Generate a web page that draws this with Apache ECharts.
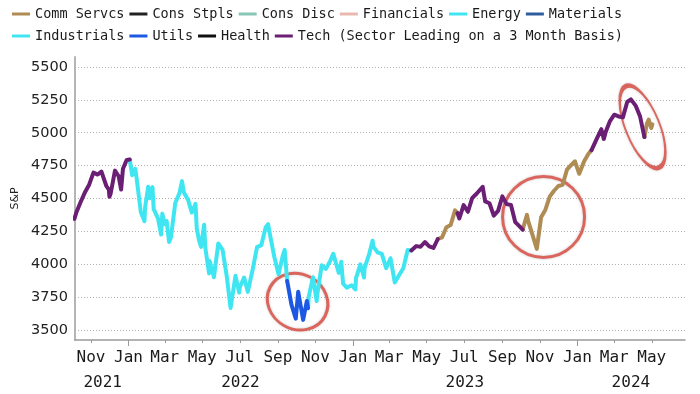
<!DOCTYPE html>
<html><head><meta charset="utf-8">
<script src="https://cdn.jsdelivr.net/npm/echarts@6/dist/echarts.min.js"></script>
<style>html,body{margin:0;padding:0;background:#fff}#c{width:700px;height:394px}</style>
</head><body><div id="c"></div><script>
// S&P 500 levels
const dates = [
'2021-10-05','2021-10-08','2021-10-15','2021-10-22','2021-10-29','2021-11-05','2021-11-12','2021-11-18','2021-11-26','2021-11-30','2021-12-01','2021-12-03','2021-12-10','2021-12-16','2021-12-20','2021-12-23','2021-12-29',
'2022-01-03','2022-01-07','2022-01-12','2022-01-14','2022-01-21','2022-01-27','2022-01-28','2022-02-02','2022-02-04','2022-02-09','2022-02-11','2022-02-18','2022-02-23','2022-02-25','2022-03-01','2022-03-04','2022-03-08','2022-03-11','2022-03-18','2022-03-25','2022-03-29','2022-04-01','2022-04-08','2022-04-14','2022-04-20','2022-04-22','2022-04-26','2022-04-29','2022-05-04','2022-05-06','2022-05-12','2022-05-13','2022-05-20','2022-05-27','2022-06-03','2022-06-10','2022-06-16','2022-06-24','2022-06-30','2022-07-01','2022-07-08','2022-07-14','2022-07-22','2022-07-29','2022-08-05','2022-08-12','2022-08-16','2022-08-19','2022-08-26','2022-09-02','2022-09-09','2022-09-12','2022-09-16','2022-09-23','2022-09-30','2022-10-04','2022-10-12','2022-10-14','2022-10-18','2022-10-20','2022-10-21','2022-10-28','2022-11-03','2022-11-04','2022-11-10','2022-11-11','2022-11-18','2022-11-25','2022-11-30','2022-12-02','2022-12-09','2022-12-13','2022-12-16','2022-12-22','2022-12-30',
'2023-01-05','2023-01-06','2023-01-13','2023-01-19','2023-01-20','2023-01-27','2023-02-02','2023-02-03','2023-02-10','2023-02-17','2023-02-24','2023-03-03','2023-03-06','2023-03-10','2023-03-13','2023-03-17','2023-03-24','2023-03-31','2023-04-06','2023-04-14','2023-04-21','2023-04-28','2023-05-05','2023-05-12','2023-05-19','2023-05-26','2023-06-02','2023-06-09','2023-06-16','2023-06-20','2023-06-23','2023-06-30','2023-07-07','2023-07-14','2023-07-21','2023-07-31','2023-08-04','2023-08-11','2023-08-18','2023-08-25','2023-09-01','2023-09-08','2023-09-15','2023-09-22','2023-09-29','2023-10-04','2023-10-11','2023-10-13','2023-10-20','2023-10-27','2023-11-03','2023-11-10','2023-11-17','2023-11-24','2023-12-01','2023-12-08','2023-12-15','2023-12-22','2023-12-28',
'2024-01-04','2024-01-12','2024-01-19','2024-01-24','2024-02-02','2024-02-09','2024-02-13','2024-02-16','2024-02-23','2024-03-01','2024-03-08','2024-03-15','2024-03-22','2024-03-28','2024-04-05','2024-04-12','2024-04-19','2024-04-23','2024-04-26','2024-04-30','2024-05-02'
];
const spx = [
4345,4391,4471,4545,4605,4697,4682,4705,4595,4567,4513,4538,4712,4669,4568,4726,4793,
4796,4677,4726,4662,4398,4327,4432,4589,4501,4587,4419,4349,4226,4385,4306,4329,4170,4204,4463,4543,4632,4546,4488,4393,4459,4272,4175,4132,4300,4123,3930,4024,3901,4158,4109,3901,3667,3912,3785,3825,3899,3790,3962,4130,4145,4280,4305,4228,4058,3924,4067,4110,3873,3693,3586,3791,3577,3583,3720,3666,3752,3901,3720,3771,3956,3993,3965,4026,4080,4072,3934,4019,3852,3822,3840,
3808,3895,3999,3899,3973,4071,4180,4136,4090,4079,3970,4046,4048,3862,3855,3917,3971,4109,4105,4138,4133,4169,4136,4124,4192,4205,4282,4299,4410,4389,4348,4450,4399,4505,4536,4589,4478,4464,4370,4406,4516,4457,4450,4320,4288,4263,4376,4328,4224,4117,4358,4415,4514,4559,4595,4604,4719,4755,4783,
4688,4784,4840,4868,4959,5027,4953,5006,5089,5137,5124,5117,5234,5254,5204,5123,4967,5070,5100,5036,5064
];
// Leading sector from each date onward
const sectorChangeDates = ['2021-10-05','2022-01-03','2022-09-16','2022-10-20','2023-04-06','2023-05-19','2023-06-20','2023-10-04','2024-01-24','2024-04-19'];
const sectorChangeNames = ['Tech','Energy','Utils','Energy','Tech','Comm Servcs','Tech','Comm Servcs','Tech','Comm Servcs'];

const sectorNames = ['Comm Servcs','Cons Stpls','Cons Disc','Financials','Energy','Materials','Industrials','Utils','Health','Tech'];
const legendLabels = ['Comm Servcs','Cons Stpls','Cons Disc','Financials','Energy','Materials','Industrials','Utils','Health','Tech (Sector Leading on a 3 Month Basis)'];
const sectorColors = ['#b08c55','#222222','#86c7b5','#e9b8b1','#3fe6f2','#2e5c9e','#3fe6f2','#1d58e2','#111111','#6b1f74'];

const yTicks = [3500,3750,4000,4250,4500,4750,5000,5250,5500];
const monthTickDates = ['2021-11-01','2022-01-01','2022-03-01','2022-05-01','2022-07-01','2022-09-01','2022-11-01','2023-01-01','2023-03-01','2023-05-01','2023-07-01','2023-09-01','2023-11-01','2024-01-01','2024-03-01','2024-05-01'];
const monthTickLabels = ['Nov','Jan','Mar','May','Jul','Sep','Nov','Jan','Mar','May','Jul','Sep','Nov','Jan','Mar','May'];
const yearTickDates = ['2022-01-01','2023-01-01','2024-01-01'];
const yearLabelDates = ['2021-11-20','2022-07-02','2023-07-02','2024-03-28'];
const yearLabels = ['2021','2022','2023','2024'];

const T = s => Date.parse(s + 'T00:00:00Z');
const times = dates.map(T);
const changeTimes = sectorChangeDates.map(T);
const leader = times.map(t => {
  let s = sectorChangeNames[0];
  for (let k = 0; k < changeTimes.length; k++) if (t >= changeTimes[k]) s = sectorChangeNames[k];
  return s;
});
const monthTimes = monthTickDates.map(T);
const yearTickTimes = yearTickDates.map(T);
const yearLabelTimes = yearLabelDates.map(T);
const xMin = T('2021-10-06'), xMax = T('2024-06-24');

const lineSeries = sectorNames.map((s, si) => ({
  name: legendLabels[si],
  type: 'line',
  xAxisIndex: 0, yAxisIndex: 0,
  symbol: 'none', showSymbol: false,
  connectNulls: false,
  silent: true,
  z: 3,
  lineStyle: { width: 4, color: sectorColors[si], join: 'round', cap: 'round' },
  itemStyle: { color: sectorColors[si] },
  data: times.map((t, i) => [t, (leader[i] === s || (i > 0 && leader[i - 1] === s)) ? spx[i] : null])
}));

const ellipses = {
  type: 'scatter', name: 'highlight', silent: true, z: 2,
  xAxisIndex: 0, yAxisIndex: 0,
  itemStyle: { color: 'rgba(0,0,0,0)', borderColor: '#d8473d', borderWidth: 3, shadowBlur: 3, shadowColor: 'rgba(0,0,0,0.25)' },
  data: [
    { value: [T('2022-10-03'), 3716], symbolSize: [62, 55], symbolRotate: -28 },
    { value: [T('2023-11-07'), 4360], symbolSize: [82, 81], symbolRotate: 0 },
    { value: [T('2024-04-16'), 5045], symbolSize: [34, 88], symbolRotate: 22 }
  ]
};

const legendCommon = {
  orient: 'horizontal', left: 12, padding: 0, icon: 'rect', itemWidth: 18, itemHeight: 3, itemGap: 5,
  selectedMode: false,
  textStyle: { fontFamily: 'DejaVu Sans Mono', fontSize: 13.5, color: '#1a1a1a' }
};

const chart = echarts.init(document.getElementById('c'), null, { renderer: 'canvas' });
chart.setOption({
  animation: false,
  backgroundColor: '#ffffff',
  legend: [
    Object.assign({}, legendCommon, { top: 7, data: legendLabels.slice(0, 6) }),
    Object.assign({}, legendCommon, { top: 29, data: legendLabels.slice(6) })
  ],
  grid: { left: 75, right: 15, top: 57, bottom: 54 },
  xAxis: [
    {
      type: 'value', position: 'bottom', min: xMin, max: xMax,
      axisLine: { show: true, lineStyle: { color: '#9a9a9a', width: 1.5 } },
      axisTick: { show: true, customValues: monthTimes, length: 3, lineStyle: { color: '#9a9a9a' } },
      axisLabel: {
        customValues: monthTimes, margin: 10,
        fontFamily: 'DejaVu Sans Mono', fontSize: 16, color: '#1a1a1a',
        formatter: v => { const k = monthTimes.indexOf(v); return k >= 0 ? monthTickLabels[k] : ''; }
      },
      splitLine: { show: false }
    },
    {
      type: 'value', position: 'bottom', min: xMin, max: xMax,
      axisLine: { show: false },
      axisTick: { show: true, customValues: yearTickTimes, length: 6, lineStyle: { color: '#9a9a9a' } },
      axisLabel: {
        customValues: yearLabelTimes, margin: 35,
        fontFamily: 'DejaVu Sans Mono', fontSize: 16, color: '#1a1a1a',
        formatter: v => { const k = yearLabelTimes.indexOf(v); return k >= 0 ? yearLabels[k] : ''; }
      },
      splitLine: { show: false }
    }
  ],
  yAxis: {
    type: 'value', min: 3424, max: 5576,
    name: 'S&P', nameLocation: 'middle', nameRotate: 90, nameGap: 48,
    nameTextStyle: { fontFamily: 'DejaVu Sans', fontSize: 11, color: '#222' },
    axisLine: { show: true, lineStyle: { color: '#b5b5b5', width: 2 } },
    axisTick: { show: false, customValues: yTicks },
    axisLabel: { customValues: yTicks, margin: 7, fontFamily: 'DejaVu Sans', fontSize: 14.5, color: '#222', formatter: v => String(v) },
    splitLine: { show: true, lineStyle: { color: '#b0b0b0', type: [1, 2], width: 1 } }
  },
  series: lineSeries.concat([ellipses])
});
</script></body></html>
